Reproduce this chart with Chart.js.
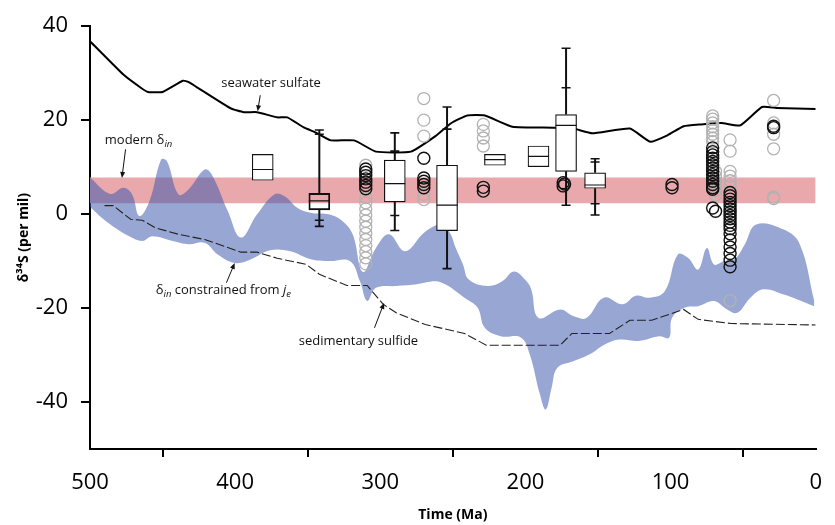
<!DOCTYPE html>
<html>
<head>
<meta charset="utf-8">
<script src="https://cdn.jsdelivr.net/npm/chart.js@4.4.1/dist/chart.umd.min.js"></script>
<style>
  html, body { margin: 0; padding: 0; background: #fff; }
  #wrap { width: 835px; height: 525px; }
</style>
</head>
<body>
<div id="wrap"><canvas id="chart" width="835" height="525"></canvas></div>
<script>
// seawater sulfate (time in Ma, d34S in per mil)
const seawaterT = [500, 477, 465, 460, 450, 436, 432, 403, 394, 385, 371, 364, 353, 344, 334, 318, 303, 279, 262, 251, 240, 228, 209, 181, 167, 154, 128, 114, 102, 91, 79, 65, 52, 37, 27, 0];
const seawaterD = [36.8, 29.7, 26.9, 26.0, 26.0, 28.4, 28.1, 22.5, 21.7, 21.7, 20.6, 20.6, 18.5, 17.3, 15.7, 15.7, 13.3, 13.3, 16.6, 19.4, 21.0, 21.0, 18.6, 18.4, 18.2, 17.2, 18.2, 15.4, 16.8, 18.7, 19.1, 19.4, 18.9, 22.8, 22.6, 22.4];

// sedimentary sulfide (dashed)
const sulfideT = [490, 484, 472, 464, 455, 439, 421, 396, 385, 371, 351, 342, 323, 309, 298, 289, 269, 249, 242, 227, 176, 168, 142, 128, 113, 91, 81, 58, 0];
const sulfideD = [1.8, 1.8, -1.1, -1.3, -2.9, -4.3, -5.4, -8.1, -8.1, -9.4, -10.7, -12.8, -15.2, -15.2, -19.2, -21.0, -23.5, -24.9, -25.4, -27.9, -27.9, -25.4, -25.4, -22.6, -22.6, -20.3, -22.4, -23.3, -23.6];

// d_in constrained from j_e (blue envelope)
const bandTopT = [500, 486, 477, 471, 466, 459, 451, 447, 439, 432, 421, 416, 405, 396, 385, 373, 366, 357, 348, 335, 326, 319, 312, 303, 294, 283, 271, 265, 258, 252, 248, 243, 239, 226, 216, 208, 200, 196, 191, 176, 167, 158, 146, 133, 124, 115, 104, 95, 88, 81, 75, 70, 63, 56, 49, 41, 22, 11, 1];
const bandTopD = [7.8, 4.3, 5.6, 4.2, -0.4, 2.8, 11.6, 11.3, 4.2, 5.3, 9.5, 8.4, 0.6, -5.0, -0.1, 4.2, 3.8, 1.3, 0.3, -0.1, -1.5, -4.3, -12.3, -7.2, -4.3, -7.9, -4.3, -2.9, -2.2, -4.0, -7.2, -10.7, -13.9, -15.3, -14.3, -12.2, -14.0, -16.0, -22.1, -20.3, -21.7, -22.1, -17.8, -19.2, -17.4, -17.8, -16.4, -8.6, -9.3, -11.8, -7.2, -10.7, -10.0, -9.6, -6.5, -2.2, -3.3, -6.4, -18.5];
const bandBotT = [500, 489, 473, 464, 457, 443, 432, 421, 412, 400, 389, 376, 362, 348, 335, 321, 314, 309, 303, 289, 276, 262, 255, 248, 242, 233, 228, 217, 203, 197, 190, 186, 182, 178, 167, 156, 145, 135, 122, 108, 101, 99, 90, 81, 70, 61, 54, 45, 36, 22, 13, 1];
const bandBotD = [1.5, -1.5, -4.7, -5.7, -4.7, -5.7, -6.4, -6.1, -8.6, -10.4, -9.6, -7.7, -7.9, -9.6, -10.0, -10.0, -14.3, -18.5, -15.7, -15.3, -15.0, -14.3, -15.0, -16.4, -17.8, -19.9, -24.2, -26.0, -26.3, -29.9, -38.4, -41.6, -37.0, -32.7, -31.3, -29.9, -27.7, -26.7, -27.0, -26.0, -26.3, -22.1, -19.9, -19.6, -18.5, -20.3, -21.0, -17.8, -16.0, -17.1, -18.1, -19.6];

// modern d_in range
const modernT = [500, 0];
const modernHi = 7.8;
const modernLo = 2.3;

// box plots
const boxT   = [381, 342, 290, 254, 221, 191, 172, 152];
const boxQ1  = [7.2, 0.9, 2.6, -3.5, 10.4, 10.1, 9.1, 5.5];
const boxMed = [9.5, 2.8, 6.5, 1.9, 11.6, 12.3, 18.9, 6.2];
const boxQ3  = [12.7, 4.4, 11.5, 10.4, 12.7, 14.5, 21.2, 8.8];
const capsHi = [[], [17.9, 17.0], [17.3, 13.4], [22.8, 18.1], [], [], [35.3, 26.9], [11.8, 11.1]];
const capsLo = [[], [-1.3, -2.6], [-0.3, -3.5], [-11.6], [], [], [1.9], [2.2, -0.2]];

// individual measurements [time, d34S]
const grayCircles = [
  [310, 10.4], [310, 3.5], [310, 2.4], [310, 1.1], [310, -0.2], [310, -1.5], [310, -2.8], [310, -4.1], [310, -5.4], [310, -6.7], [310, -8.0], [310, -9.3], [310, -10.6],
  [270, 24.6], [270, 20.0], [270, 16.6], [270, 4.2], [270, 3.1],
  [229, 19.1], [229, 17.7], [229, 16.2], [229, 14.5],
  [71, 20.9], [71, 20.2], [71, 19.4], [71, 18.6], [71, 17.8], [71, 17.0], [71, 16.2], [71, 15.4],
  [69, 9.1], [69, 8.0], [69, 7.0], [69, 6.0], [69, 5.0], [69, 4.0],
  [59, 15.8], [59, 13.4], [59, 9.1], [59, 8.1], [59, 7.1], [59, 6.1], [59, -18.4],
  [29, 24.2], [29, 19.4], [29, 17.0], [29, 13.9], [29, 3.6], [29, 3.3]
];
const blackCircles = [
  [310, 9.6], [310, 8.9], [310, 8.2], [310, 7.5], [310, 6.8], [310, 6.1], [310, 5.4],
  [270, 11.9], [270, 7.7], [270, 7.0], [270, 6.3], [270, 5.6],
  [229, 5.7], [229, 4.9],
  [174, 6.7], [174, 6.0], [173, 6.4],
  [99, 6.3], [99, 5.6],
  [71, 14.1], [71, 13.3], [71, 12.6], [71, 11.9], [71, 11.2], [71, 10.5], [71, 9.8], [71, 9.1], [71, 8.4], [71, 7.7], [71, 7.0], [71, 6.3], [71, 5.6], [71, 5.3], [71, 1.3], [69, 0.6],
  [59, 4.6], [59, 3.9], [59, 3.2], [59, 2.5], [59, 1.8], [59, 1.1], [59, 0.4], [59, -0.3], [59, -1.0], [59, -1.7], [59, -2.4], [59, -3.1], [59, -4.2], [59, -5.5], [59, -7.0], [59, -8.4], [59, -9.8], [59, -11.2],
  [29, 18.7], [29, 18.4]
];

const toPts = (ts, ds) => ts.map((t, i) => ({ x: t, y: ds[i] }));
const pairPts = arr => arr.map(p => ({ x: p[0], y: p[1] }));

// whisker segments separated by gaps
const whiskerPts = [];
const capPts = [];
boxT.forEach((t, i) => {
  if (capsHi[i].length) {
    whiskerPts.push({ x: t, y: boxQ3[i] }, { x: t, y: Math.max(...capsHi[i]) }, { x: t, y: null });
  }
  if (capsLo[i].length) {
    whiskerPts.push({ x: t, y: boxQ1[i] }, { x: t, y: Math.min(...capsLo[i]) }, { x: t, y: null });
  }
  capsHi[i].concat(capsLo[i]).forEach(v => capPts.push({ x: t, y: v }));
});

const labelFont = '"Open Sans", sans-serif';

// text labels with arrows, placed in data coordinates
const notes = [
  { at: [409.6, 27.0], parts: [{ text: 'seawater sulfate' }], arrow: [[382.7, 25.3], [384.5, 21.9]] },
  { at: [489.8, 14.9], parts: [{ text: 'modern δ' }, { text: 'in', italic: true, sub: true }], arrow: [[475.5, 13.8], [478.0, 7.7]] },
  { at: [454.7, -17.0], parts: [{ text: 'δ' }, { text: 'in', italic: true, sub: true }, { text: ' constrained from ' }, { text: 'j', italic: true }, { text: 'e', italic: true, sub: true }], arrow: [[406.0, -14.6], [400.3, -10.4]] },
  { at: [356.2, -27.9], parts: [{ text: 'sedimentary sulfide' }], arrow: [[304.0, -24.2], [297.4, -18.9]] }
];

const notesPlugin = {
  id: 'notes',
  afterDatasetsDraw(chart) {
    const { ctx, scales: { x, y } } = chart;
    ctx.save();
    ctx.fillStyle = '#111';
    ctx.strokeStyle = '#111';
    ctx.textBaseline = 'alphabetic';
    ctx.textAlign = 'left';
    notes.forEach(n => {
      let cx = x.getPixelForValue(n.at[0]);
      const cy = y.getPixelForValue(n.at[1]);
      n.parts.forEach(p => {
        const size = p.sub ? 9.5 : 13;
        ctx.font = (p.italic ? 'italic ' : '') + size + 'px ' + labelFont;
        ctx.fillText(p.text, cx, cy + (p.sub ? 3 : 0));
        cx += ctx.measureText(p.text).width;
      });
      const x0 = x.getPixelForValue(n.arrow[0][0]), y0 = y.getPixelForValue(n.arrow[0][1]);
      const x1 = x.getPixelForValue(n.arrow[1][0]), y1 = y.getPixelForValue(n.arrow[1][1]);
      const ang = Math.atan2(y1 - y0, x1 - x0);
      ctx.lineWidth = 1;
      ctx.beginPath();
      ctx.moveTo(x0, y0);
      ctx.lineTo(x1 - Math.cos(ang) * 4, y1 - Math.sin(ang) * 4);
      ctx.stroke();
      ctx.beginPath();
      ctx.moveTo(x1, y1);
      ctx.lineTo(x1 - Math.cos(ang) * 6 + Math.sin(ang) * 2.5, y1 - Math.sin(ang) * 6 - Math.cos(ang) * 2.5);
      ctx.lineTo(x1 - Math.cos(ang) * 6 - Math.sin(ang) * 2.5, y1 - Math.sin(ang) * 6 + Math.cos(ang) * 2.5);
      ctx.closePath();
      ctx.fill();
    });
    ctx.restore();
  }
};

const datasets = [
  { // 0 medians
    type: 'line', data: boxT.map((t, i) => ({ x: t, y: boxMed[i] })), showLine: false,
    pointStyle: 'line', pointRadius: 10.5, pointBorderWidth: 1.2, pointBorderColor: '#111', order: 0
  },
  { // 1 whisker caps
    type: 'line', data: capPts, showLine: false,
    pointStyle: 'line', pointRadius: 4.5, pointBorderWidth: 1.6, pointBorderColor: '#111', order: 0
  },
  { // 2 whiskers
    type: 'line', data: whiskerPts, borderColor: '#111', borderWidth: 2, pointRadius: 0, spanGaps: false, order: 1
  },
  { // 3 boxes
    type: 'bar', data: boxT.map((t, i) => ({ x: t, y: [boxQ1[i], boxQ3[i]] })),
    backgroundColor: boxT.map(t => t === 342 ? 'rgba(255,255,255,0)' : '#fff'),
    borderColor: '#111', borderWidth: 1.2, borderSkipped: false, barThickness: 21, grouped: false, order: 2
  },
  { // 4 black circles
    type: 'line', data: pairPts(blackCircles), showLine: false,
    pointStyle: 'circle', pointRadius: 6, pointBorderWidth: 1.4, pointBorderColor: '#111', pointBackgroundColor: 'rgba(0,0,0,0)', order: 3
  },
  { // 5 gray circles
    type: 'line', data: pairPts(grayCircles), showLine: false,
    pointStyle: 'circle', pointRadius: 6, pointBorderWidth: 1.3, pointBorderColor: '#b2b2b2', pointBackgroundColor: 'rgba(0,0,0,0)', order: 4
  },
  { // 6 seawater sulfate
    type: 'line', data: toPts(seawaterT, seawaterD), borderColor: '#000', borderWidth: 2, pointRadius: 0, tension: 0.15, order: 5
  },
  { // 7 sedimentary sulfide
    type: 'line', data: toPts(sulfideT, sulfideD), borderColor: '#222', borderWidth: 1.1, borderDash: [9, 3], pointRadius: 0, tension: 0, order: 5
  },
  { // 8 blue envelope top
    type: 'line', data: toPts(bandTopT, bandTopD), borderWidth: 0, borderColor: 'rgba(0,0,0,0)', pointRadius: 0,
    tension: 0.4, fill: { target: 9 }, backgroundColor: 'rgba(60,87,174,0.53)', order: 8
  },
  { // 9 blue envelope bottom
    type: 'line', data: toPts(bandBotT, bandBotD), borderWidth: 0, borderColor: 'rgba(0,0,0,0)', pointRadius: 0,
    tension: 0.4, fill: false, order: 8
  },
  { // 10 modern range top
    type: 'line', data: modernT.map(t => ({ x: t, y: modernHi })), borderWidth: 0, borderColor: 'rgba(0,0,0,0)', pointRadius: 0,
    fill: { target: 11 }, backgroundColor: 'rgb(232,168,172)', order: 9
  },
  { // 11 modern range bottom
    type: 'line', data: modernT.map(t => ({ x: t, y: modernLo })), borderWidth: 0, borderColor: 'rgba(0,0,0,0)', pointRadius: 0,
    fill: false, order: 9
  }
];

new Chart(document.getElementById('chart'), {
  type: 'line',
  data: { datasets },
  plugins: [notesPlugin],
  options: {
    responsive: false,
    animation: false,
    events: [],
    layout: { padding: { top: 25, right: 9, left: 0, bottom: 0 } },
    plugins: { legend: { display: false }, tooltip: { enabled: false } },
    scales: {
      x: {
        type: 'linear', min: 0, max: 500, reverse: true, offset: false,
        ticks: { stepSize: 100, color: '#000', font: { family: labelFont, size: 22 }, padding: 13, maxRotation: 0 },
        grid: { drawOnChartArea: false, drawTicks: true, tickLength: 8, color: '#000', lineWidth: 2 },
        border: { display: true, color: '#000', width: 2 },
        title: { display: true, text: 'Time (Ma)', color: '#000', font: { family: labelFont, size: 14, weight: 'bold' }, padding: { top: 0, bottom: 2 } },
        afterFit(scale) { scale.height = 76; }
      },
      y: {
        type: 'linear', min: -50, max: 40,
        ticks: { stepSize: 20, includeBounds: false, color: '#000', font: { family: labelFont, size: 22 }, padding: 13 },
        grid: { drawOnChartArea: false, drawTicks: true, tickLength: 9, color: '#000', lineWidth: 2 },
        border: { display: true, color: '#000', width: 2 },
        title: { display: true, text: 'δ³⁴S (per mil)', color: '#000', font: { family: '"Noto Sans", "Open Sans", sans-serif', size: 14, weight: 'bold' }, padding: { top: 16, bottom: 0 } },
        afterFit(scale) { scale.width = 90; }
      }
    }
  }
});
</script>
</body>
</html>
